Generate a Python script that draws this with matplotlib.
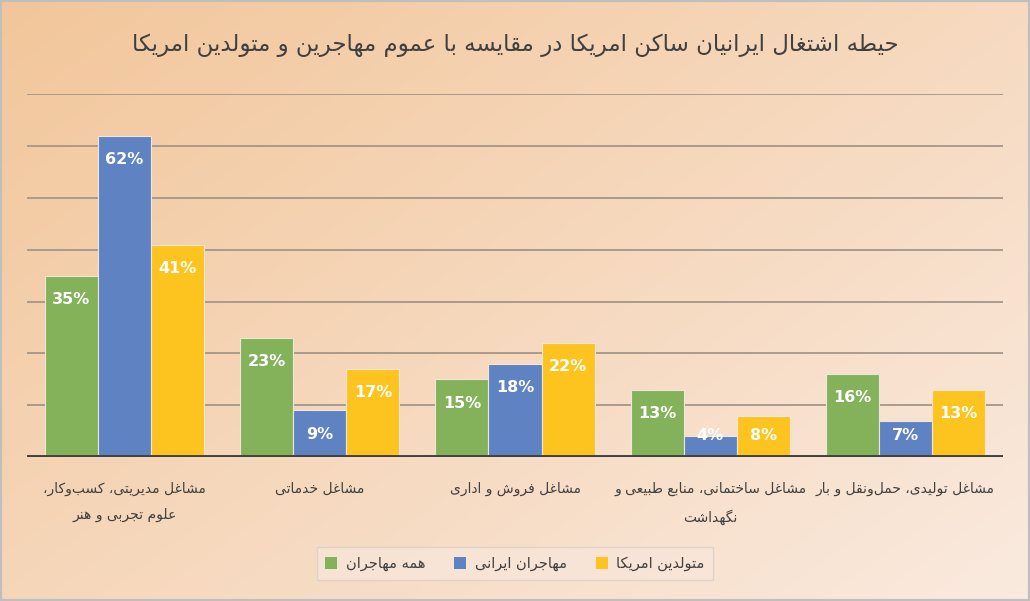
import numpy as np
import matplotlib
matplotlib.use("Agg")
import matplotlib.pyplot as plt
from matplotlib.patches import Patch, Rectangle
from matplotlib.colors import to_rgb

# --- data ---
title = "حیطه اشتغال ایرانیان ساکن امریکا در مقایسه با عموم مهاجرین و متولدین امریکا"
categories = [
    "مشاغل مدیریتی، کسب\u200cوکار،\nعلوم تجربی و هنر",
    "مشاغل خدماتی",
    "مشاغل فروش و اداری",
    "مشاغل ساختمانی، منابع طبیعی و\nنگهداشت",
    "مشاغل تولیدی، حمل\u200cونقل و بار",
]
series_names = ["همه مهاجران", "مهاجران ایرانی", "متولدین امریکا"]
all_immigrants = [35, 23, 15, 13, 16]
iranian_immigrants = [62, 9, 18, 4, 7]
us_born = [41, 17, 22, 8, 13]
series_values = [all_immigrants, iranian_immigrants, us_born]
colors = ["#84B25B", "#5F82C2", "#FDC41F"]

# --- minimal Persian shaping (matplotlib has no bidi / joining) ---
FORMS = {
    'ا': (0xFE8D, 0xFE8E), 'د': (0xFEA9, 0xFEAA), 'ذ': (0xFEAB, 0xFEAC),
    'ر': (0xFEAD, 0xFEAE), 'ز': (0xFEAF, 0xFEB0), 'و': (0xFEED, 0xFEEE),
    'ژ': (0xFB8A, 0xFB8B),
    'ب': (0xFE8F, 0xFE90, 0xFE91, 0xFE92), 'ت': (0xFE95, 0xFE96, 0xFE97, 0xFE98),
    'ث': (0xFE99, 0xFE9A, 0xFE9B, 0xFE9C), 'ج': (0xFE9D, 0xFE9E, 0xFE9F, 0xFEA0),
    'ح': (0xFEA1, 0xFEA2, 0xFEA3, 0xFEA4), 'خ': (0xFEA5, 0xFEA6, 0xFEA7, 0xFEA8),
    'س': (0xFEB1, 0xFEB2, 0xFEB3, 0xFEB4), 'ش': (0xFEB5, 0xFEB6, 0xFEB7, 0xFEB8),
    'ص': (0xFEB9, 0xFEBA, 0xFEBB, 0xFEBC), 'ض': (0xFEBD, 0xFEBE, 0xFEBF, 0xFEC0),
    'ط': (0xFEC1, 0xFEC2, 0xFEC3, 0xFEC4), 'ظ': (0xFEC5, 0xFEC6, 0xFEC7, 0xFEC8),
    'ع': (0xFEC9, 0xFECA, 0xFECB, 0xFECC), 'غ': (0xFECD, 0xFECE, 0xFECF, 0xFED0),
    'ف': (0xFED1, 0xFED2, 0xFED3, 0xFED4), 'ق': (0xFED5, 0xFED6, 0xFED7, 0xFED8),
    'ل': (0xFEDD, 0xFEDE, 0xFEDF, 0xFEE0), 'م': (0xFEE1, 0xFEE2, 0xFEE3, 0xFEE4),
    'ن': (0xFEE5, 0xFEE6, 0xFEE7, 0xFEE8), 'ه': (0xFEE9, 0xFEEA, 0xFEEB, 0xFEEC),
    'پ': (0xFB56, 0xFB57, 0xFB58, 0xFB59), 'چ': (0xFB7A, 0xFB7B, 0xFB7C, 0xFB7D),
    'ک': (0xFB8E, 0xFB8F, 0xFB90, 0xFB91), 'گ': (0xFB92, 0xFB93, 0xFB94, 0xFB95),
    'ی': (0xFBFC, 0xFBFD, 0xFBFE, 0xFBFF),
}


def shape(text):
    lines = []
    for line in text.split("\n"):
        out = []
        for i, c in enumerate(line):
            if c not in FORMS:
                if c != "\u200c":
                    out.append(c)
                continue
            f = FORMS[c]
            prev = line[i - 1] if i > 0 else None
            nxt = line[i + 1] if i + 1 < len(line) else None
            jp = prev in FORMS and len(FORMS[prev]) == 4
            jn = len(f) == 4 and nxt in FORMS
            if jp and jn:
                g = f[3]
            elif jp:
                g = f[1]
            elif jn:
                g = f[2]
            else:
                g = f[0]
            out.append(chr(g))
        lines.append("".join(out)[::-1])
    return "\n".join(lines)


plt.rcParams["font.family"] = ["DejaVu Sans"]
text_color = "#404040"

fig = plt.figure(figsize=(10.30, 6.01), dpi=100)

# background gradient (top-left orange -> bottom-right light)
bg = fig.add_axes([0, 0, 1, 1], zorder=-10)
c0 = np.array(to_rgb("#F2C69A"))
c1 = np.array(to_rgb("#FAEADF"))
yy, xx = np.mgrid[0:1:200j, 0:1:300j]
t = np.clip((xx * 0.55 + yy * 0.45), 0, 1)[..., None]
bg.imshow(c0 * (1 - t) + c1 * t, aspect="auto", extent=[0, 1, 0, 1], origin="upper")
bg.set_axis_off()
fig.patches.append(Rectangle((0, 0), 1, 1, transform=fig.transFigure,
                             fill=False, edgecolor="#BFBFBF", linewidth=3))

ax = fig.add_axes([0.0262, 0.2396, 0.9476, 0.6033])
ax.patch.set_alpha(0)

x = np.arange(len(categories))
w = 0.272
for j, (vals, col) in enumerate(zip(series_values, colors)):
    xs = x + (j - 1) * w
    ax.bar(xs, vals, width=w, color=col, edgecolor="#EFE6DA", linewidth=0.8, zorder=3)
    for xi, v in zip(xs, vals):
        ax.text(xi, max(v - 4.6, 4.2), f"{v}%", ha="center", va="center",
                color="white", fontsize=11.5, fontweight="bold", zorder=4)

ax.set_xlim(-0.5, len(categories) - 0.5)
ax.set_ylim(0, 70)
ax.set_yticks(np.arange(0, 71, 10))
ax.set_yticklabels([])
ax.grid(axis="y", color="#A39689", linewidth=1.3, zorder=0)
ax.axhline(0, color="#404040", linewidth=2.8, zorder=5)
for s in ax.spines.values():
    s.set_visible(False)
ax.tick_params(length=0)
ax.set_xticks(x)
ax.set_xticklabels([shape(c) for c in categories], fontsize=10,
                   color=text_color, linespacing=2.05)
ax.tick_params(axis="x", pad=18)

fig.text(0.5, 0.925, shape(title), ha="center", va="center",
         fontsize=16.5, color=text_color)

handles = [Patch(facecolor=c, edgecolor="none") for c in colors]
leg = fig.legend(handles, [shape(n) for n in series_names], loc="center",
                 bbox_to_anchor=(0.5, 0.062), ncol=3, frameon=True,
                 fontsize=10.5, handlelength=0.8, handleheight=0.8,
                 columnspacing=2.0, handletextpad=0.6, borderpad=0.6,
                 fancybox=False)
leg.get_frame().set_facecolor("#F8E6D9")
leg.get_frame().set_edgecolor("#D8CFC8")
for t_ in leg.get_texts():
    t_.set_color(text_color)

fig.savefig("out.png", dpi=100)
